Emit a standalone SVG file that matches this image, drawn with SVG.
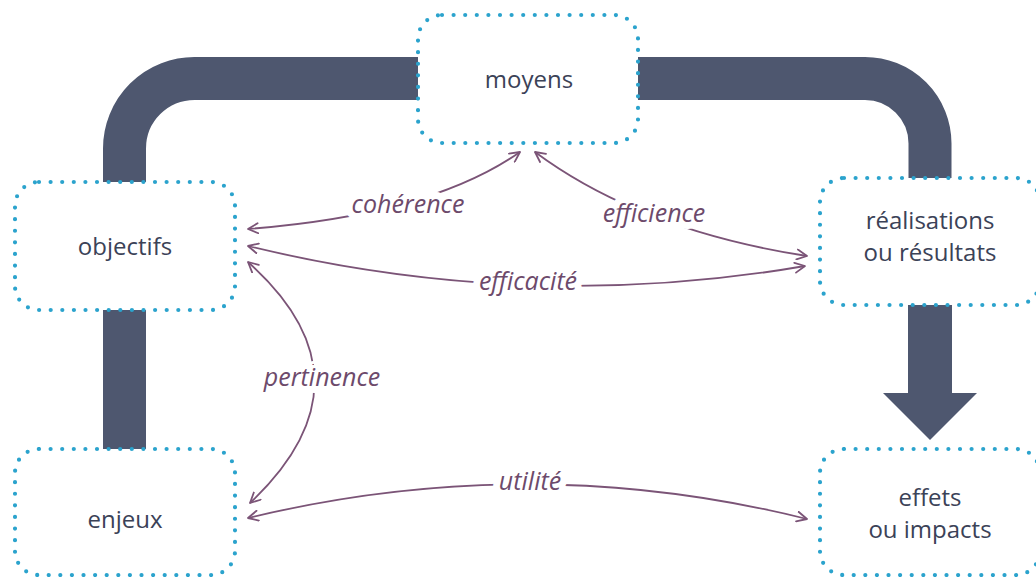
<svg xmlns="http://www.w3.org/2000/svg" width="1036" height="577" viewBox="0 0 1036 577">
<style>
.box{fill:#fff;stroke:#2ba3cd;stroke-width:4.2;stroke-dasharray:0 11.6;stroke-linecap:round}
.band{fill:none;stroke:#4e576f;stroke-width:43}
.rel{fill:none;stroke:#7b5477;stroke-width:1.8}
.nt{font-family:"Open Sans","Noto Sans",sans-serif;font-size:24px;font-weight:500;fill:#3b4257;text-anchor:middle}
.lb{font-family:"Open Sans","Noto Sans",sans-serif;font-size:25px;font-weight:500;font-style:italic;fill:#6d4a6b;text-anchor:middle;stroke:#fff;stroke-width:14;paint-order:stroke;stroke-linejoin:round}
</style>
<defs>
<marker id="ah" viewBox="0 0 12 12" refX="11" refY="6" markerWidth="12" markerHeight="12" markerUnits="userSpaceOnUse" orient="auto-start-reverse">
<path d="M1,1 L11,6 L1,11" fill="none" stroke="#7b5477" stroke-width="1.8" stroke-linecap="round" stroke-linejoin="round"/>
</marker>
</defs>
<g id="bands">
<path class="band" d="M418 78.5 H195 A70 70 0 0 0 124.5 148.5 V182"/>
<path class="band" d="M638 78.5 H865 A65 65 0 0 1 930 143.5 V178"/>
<path class="band" d="M124.5 310 V449"/>
<path d="M908 305 V393 H883 L930 440 L977 393 H952 V305 Z" fill="#4e576f"/>
</g>
<g id="connectors">
<path class="rel" d="M248 229 Q430 215 520 152" marker-start="url(#ah)" marker-end="url(#ah)"/>
<path class="rel" d="M535 152 Q640 230 807 256" marker-start="url(#ah)" marker-end="url(#ah)"/>
<path class="rel" d="M248 246 Q527 314 805 266" marker-start="url(#ah)" marker-end="url(#ah)"/>
<path class="rel" d="M248 262 Q380 380 250 503" marker-start="url(#ah)" marker-end="url(#ah)"/>
<path class="rel" d="M248 518 Q530 450 807 519" marker-start="url(#ah)" marker-end="url(#ah)"/>
</g>
<g id="labels">
<text class="lb" x="408" y="213">cohérence</text>
<text class="lb" x="654" y="222">efficience</text>
<text class="lb" x="528" y="290">efficacité</text>
<text class="lb" x="322" y="386">pertinence</text>
<text class="lb" x="530" y="490">utilité</text>
</g>
<g id="moyens">
<rect class="box" x="418" y="15" width="220" height="128" rx="24"/>
<text class="nt" x="529" y="88">moyens</text>
</g>
<g id="objectifs">
<rect class="box" x="15" y="182" width="220" height="128" rx="24"/>
<text class="nt" x="125" y="255">objectifs</text>
</g>
<g id="realisations">
<rect class="box" x="820" y="178" width="220" height="127" rx="24"/>
<text class="nt" x="930" y="229">réalisations</text>
<text class="nt" x="930" y="261">ou résultats</text>
</g>
<g id="enjeux">
<rect class="box" x="15" y="449" width="220" height="126" rx="24"/>
<text class="nt" x="125" y="528">enjeux</text>
</g>
<g id="effets">
<rect class="box" x="820" y="449" width="220" height="126" rx="24"/>
<text class="nt" x="930" y="506">effets</text>
<text class="nt" x="930" y="538">ou impacts</text>
</g>
</svg>
